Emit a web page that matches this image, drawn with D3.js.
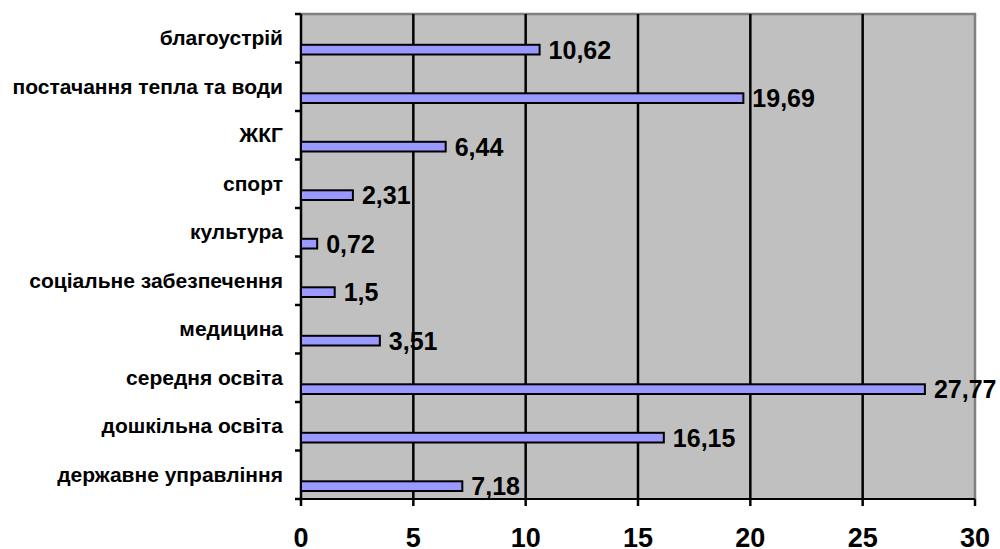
<!DOCTYPE html>
<html>
<head>
<meta charset="utf-8">
<script src="https://cdn.jsdelivr.net/npm/d3@7"></script>
<style>
  html, body { margin: 0; padding: 0; background: #fff; }
  svg { display: block; }
  text { font-family: "Liberation Sans", Arial, sans-serif; font-weight: bold; fill: #000; }
</style>
</head>
<body>
<svg id="chart" width="1000" height="549"></svg>
<script>
const categories = [
  "благоустрій",
  "постачання тепла та води",
  "ЖКГ",
  "спорт",
  "культура",
  "соціальне забезпечення",
  "медицина",
  "середня освіта",
  "дошкільна освіта",
  "державне управління"
];
const values = [10.62, 19.69, 6.44, 2.31, 0.72, 1.5, 3.51, 27.77, 16.15, 7.18];
const xTicks = [0, 5, 10, 15, 20, 25, 30];

(function () {
const svg = d3.select("#chart");
const pL = 301, pR = 975, pT = 14, pB = 499;

const x = d3.scaleLinear().domain([0, 30]).range([pL, pR]);
const y = d3.scaleBand().domain(categories).range([pT, pB]).paddingInner(0).paddingOuter(0);
const bw = y.bandwidth();

svg.append("rect")
  .attr("x", pL).attr("y", pT)
  .attr("width", pR - pL).attr("height", pB - pT)
  .attr("fill", "#c0c0c0");

svg.append("path")
  .attr("d", `M${pL},${pT}H${pR}V${pB}`)
  .attr("fill", "none").attr("stroke", "#808080").attr("stroke-width", 2.5);

svg.append("g").selectAll("line")
  .data(xTicks.filter(t => t > 0))
  .join("line")
  .attr("x1", d => x(d)).attr("x2", d => x(d))
  .attr("y1", d => d === 30 ? pB : pT).attr("y2", pB + 7)
  .attr("stroke", "#000").attr("stroke-width", 2.5);

svg.append("line")
  .attr("x1", pL).attr("x2", pR).attr("y1", pB).attr("y2", pB)
  .attr("stroke", "#000").attr("stroke-width", 2);

svg.append("line")
  .attr("x1", pL).attr("x2", pL).attr("y1", pT).attr("y2", pB + 7)
  .attr("stroke", "#000").attr("stroke-width", 2.5);

const bounds = d3.range(categories.length + 1).map(i => pT + i * bw);
svg.append("g").selectAll("line")
  .data(bounds)
  .join("line")
  .attr("x1", pL - 6).attr("x2", pL)
  .attr("y1", d => d).attr("y2", d => d)
  .attr("stroke", "#000").attr("stroke-width", 2.5);

svg.append("g").selectAll("rect")
  .data(values)
  .join("rect")
  .attr("x", pL)
  .attr("y", (d, i) => y(categories[i]) + bw * 0.635)
  .attr("width", d => x(d) - pL)
  .attr("height", bw * 0.2)
  .attr("fill", "#9999ff")
  .attr("stroke", "#000").attr("stroke-width", 2);

svg.append("g").selectAll("text")
  .data(values)
  .join("text")
  .attr("x", d => x(d) + 9)
  .attr("y", (d, i) => y(categories[i]) + bw * 0.735)
  .attr("dy", "0.36em")
  .attr("font-size", 25)
  .text(d => String(d).replace(".", ","));

svg.append("g").selectAll("text")
  .data(categories)
  .join("text")
  .attr("x", 283)
  .attr("y", d => y(d) + bw / 2)
  .attr("dy", "0.33em")
  .attr("text-anchor", "end")
  .attr("font-size", 21)
  .text(d => d);

svg.append("g").selectAll("text")
  .data(xTicks)
  .join("text")
  .attr("x", d => x(d))
  .attr("y", 546.5)
  .attr("text-anchor", "middle")
  .attr("font-size", 27)
  .text(d => d);
})();
</script>
</body>
</html>
